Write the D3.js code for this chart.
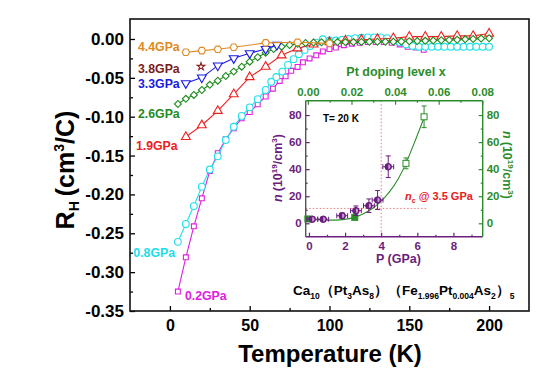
<!DOCTYPE html>
<html>
<head>
<meta charset="utf-8">
<script src="https://cdn.jsdelivr.net/npm/d3@7"></script>
<style>
  body { margin: 0; background: #fff; }
  text { font-family: Arial, "Liberation Sans", sans-serif; font-weight: bold; }
</style>
</head>
<body>
<svg id="chart" width="558" height="386"></svg>
<script>
// ---- main panel: Hall coefficient R_H (cm^3/C) vs temperature (K) ----
const temp02 = [5,10,15,20,25,30,35,40,45,50,55,60,64.5,68.8,72.5,76,80,83.3,87.5,91.7,95.8,100,104,109,114,119,124,129,134,139,144,149,154,159];
const rh02 = [-0.325,-0.281,-0.241,-0.205,-0.170,-0.147,-0.129,-0.115,-0.102,-0.094,-0.084,-0.074,-0.064,-0.054,-0.048,-0.041,-0.036,-0.030,-0.025,-0.021,-0.016,-0.013,-0.011,-0.008,-0.006,-0.005,-0.004,-0.004,-0.004,-0.005,-0.007,-0.010,-0.011,-0.014];

const temp08 = [5,10,15,20,25,30,35,40,45,50,55,60,63.5,66.7,70.4,74,77.5,80.8,84.4,87.9,91.7,95.8,100,104,108,112,116,120,124,128,132,136,140,144,148,152,156,160,164,168,172,176,180,184,188,192,196,200];
const rh08 = [-0.261,-0.238,-0.215,-0.190,-0.168,-0.151,-0.130,-0.113,-0.099,-0.088,-0.0775,-0.0656,-0.055,-0.049,-0.042,-0.0334,-0.026,-0.0197,-0.0141,-0.009,-0.0048,-0.0004,-0.002,-0.002,-0.001,0.000,0.001,0.0015,0.002,0.002,0.002,0.001,-0.001,-0.004,-0.007,-0.009,-0.010,-0.010,-0.010,-0.010,-0.010,-0.010,-0.010,-0.010,-0.010,-0.010,-0.010,-0.010];

const temp19 = [10,20,30,40,50,60,70,80,90,100,110,120,130,140,150,160,170,180,190,200];
const rh19 = [-0.126,-0.111,-0.0925,-0.071,-0.049,-0.0356,-0.021,-0.012,-0.007,-0.004,-0.002,-0.001,0.000,0.001,0.003,0.003,0.003,0.004,0.004,0.007];

const temp26 = d3.range(5, 201, 5);
const rh26 = [-0.0836,-0.077,-0.072,-0.0656,-0.059,-0.0536,-0.0476,-0.042,-0.0356,-0.0292,-0.0235,-0.0176,
  -0.013,-0.0099,-0.0078,-0.0063,-0.0052,-0.0046,-0.0042,-0.004,
  -0.004,-0.004,-0.004,-0.0038,-0.0036,-0.0035,-0.0035,-0.0035,
  -0.0033,-0.003,-0.0027,-0.0024,-0.002,-0.0017,-0.0013,-0.001,-0.0005,0.0,0.0005,0.001];

const temp33 = [10,20,30,40,50,60,67];
const rh33 = [-0.057,-0.0497,-0.0343,-0.0248,-0.0184,-0.0129,-0.0077];

const temp38 = [19.5];
const rh38 = [-0.0356];

const temp44 = [10,20,30,40,60,80,100];
const rh44 = [-0.0171,-0.015,-0.0133,-0.0107,-0.005,-0.0043,-0.0056];

const tempTicks = [0, 50, 100, 150, 200];
const tempMinor = [25, 75, 125, 175];
const rhTicks = [-0.35,-0.30,-0.25,-0.20,-0.15,-0.10,-0.05,0];
const rhMinor = [-0.325,-0.275,-0.225,-0.175,-0.125,-0.075,-0.025];

// ---- inset: carrier density n (10^19/cm^3) at T = 20 K ----
const pressGPa = [0.18, 0.79, 1.84, 2.6, 3.32, 3.8, 4.39];
const nPress = [3.0, 3.0, 5.6, 9.3, 13, 17.2, 41.8];
const pressErr = [0.3, 0.3, 0.3, 0.3, 0.3, 0.3, 0.3];
const nPressErr = [1.5, 1.5, 2, 3.5, 5, 7, 8];

const dopingX = [0.0, 0.0215, 0.045, 0.0533];
const nDoping = [3.2, 4.4, 44.3, 78.7];
const nDopingErr = [1, 1, 4, 8];
const dopingFilled = [true, true, false, false];

const fitX = [0, 0.004, 0.008, 0.0125, 0.0167, 0.021, 0.025, 0.029, 0.0333, 0.0375, 0.0417, 0.045, 0.049, 0.0533];
const fitN = [3.2, 2.6, 2.3, 2.3, 2.8, 4, 6.5, 10, 15.5, 23, 33, 44, 60, 78];

const pTicks = [0, 2, 4, 6, 8];
const pMinor = [1, 3, 5, 7, 9];
const nTicks = [0, 20, 40, 60, 80];
const nMinor = [10, 30, 50, 70];
const xTicks = [0, 0.02, 0.04, 0.06, 0.08];
const xMinor = [0.01, 0.03, 0.05, 0.07];

const ncPressure = 4.0;   // dotted vertical marker
const ncDensity = 11;     // dotted horizontal marker

const svg = d3.select("#chart");
const FONT = "Arial, 'Liberation Sans', sans-serif";

const x = d3.scaleLinear().domain([-25, 225]).range([130, 529]);
const y = d3.scaleLinear().domain([-0.35, 0.0257]).range([311, 19]);

// hexagon for the 4.4 GPa curve
const symbolHexagon = {
    draw(ctx, size) {
        const r = Math.sqrt(size / (1.5 * Math.sqrt(3)));
        for (let i = 0; i < 6; i++) {
            const a = Math.PI / 3 * i;
            if (i == 0) ctx.moveTo(r * Math.cos(a), r * Math.sin(a));
            else ctx.lineTo(r * Math.cos(a), r * Math.sin(a));
        }
        ctx.closePath();
    }
};

const series = [
    { T: temp02, R: rh02, color: "#e020e0", sym: d3.symbolSquare, size: 24, rot: 0 },
    { T: temp08, R: rh08, color: "#22e0e8", sym: d3.symbolCircle, size: 36, rot: 0 },
    { T: temp19, R: rh19, color: "#ee2020", sym: d3.symbolTriangle, size: 34, rot: 0 },
    { T: temp26, R: rh26, color: "#1e8c1e", sym: d3.symbolSquare, size: 24, rot: 45 },
    { T: temp33, R: rh33, color: "#1a1ae6", sym: d3.symbolTriangle, size: 34, rot: 180 },
    { T: temp44, R: rh44, color: "#e08a22", sym: symbolHexagon, size: 36, rot: 0 },
    { T: temp38, R: rh38, color: "#8b1e1e", sym: d3.symbolStar, size: 18, rot: 0 }
];

// axes
const gx = svg.append("g").attr("transform", "translate(0,311)")
    .call(d3.axisBottom(x).tickValues(tempTicks).tickSize(-5).tickPadding(9).tickFormat(d3.format("d")));
svg.append("g").attr("transform", "translate(0,311)")
    .call(d3.axisBottom(x).tickValues(tempMinor).tickSize(-3).tickFormat(""));
const gy = svg.append("g").attr("transform", "translate(130,0)")
    .call(d3.axisLeft(y).tickValues(rhTicks).tickSize(-5).tickPadding(6).tickFormat(d => d.toFixed(2)));
svg.append("g").attr("transform", "translate(130,0)")
    .call(d3.axisLeft(y).tickValues(rhMinor).tickSize(-3).tickFormat(""));

svg.selectAll(".domain").remove();
svg.selectAll(".tick line").attr("stroke", "#000").attr("stroke-width", 1.3);
gx.attr("font-size", 16).attr("font-family", FONT);
gy.attr("font-size", 17).attr("font-family", FONT);
svg.selectAll(".tick text").attr("fill", "#000");

svg.append("rect").attr("x", 130).attr("y", 19).attr("width", 399).attr("height", 292)
    .attr("fill", "none").attr("stroke", "#111").attr("stroke-width", 1.6);

// curves
const line = d3.line().x(d => x(d[0])).y(d => y(d[1]));
for (const s of series) {
    const pts = s.T.map((t, i) => [t, s.R[i]]);
    if (pts.length > 1)
        svg.append("path").attr("d", line(pts)).attr("fill", "none")
            .attr("stroke", s.color).attr("stroke-width", 1.1);
    svg.append("g").selectAll("path").data(pts).join("path")
        .attr("d", d3.symbol(s.sym, s.size))
        .attr("transform", d => `translate(${x(d[0])},${y(d[1])}) rotate(${s.rot})`)
        .attr("fill", "#fff").attr("stroke", s.color).attr("stroke-width", 1.1);
}

// curve labels
const labels = [
    { text: "4.4GPa", T: -20, R: -0.0103, color: "#e08a22" },
    { text: "3.8GPa", T: -20, R: -0.0377, color: "#7c1c1c" },
    { text: "3.3GPa", T: -20, R: -0.057, color: "#1a1ae6" },
    { text: "2.6GPa", T: -20, R: -0.0955, color: "#1e8c1e" },
    { text: "1.9GPa", T: -21.3, R: -0.137, color: "#ee2020" },
    { text: "0.8GPa", T: -22.9, R: -0.2747, color: "#22dde6" },
    { text: "0.2GPa", T: 9.4, R: -0.33, color: "#e020e0" }
];
svg.append("g").selectAll("text").data(labels).join("text")
    .attr("x", d => x(d.T)).attr("y", d => y(d.R)).attr("dy", "0.36em")
    .attr("font-size", 12.3).attr("fill", d => d.color).text(d => d.text);

// axis titles
svg.append("text").attr("x", 330).attr("y", 362).attr("text-anchor", "middle")
    .attr("font-size", 24).text("Temperature (K)");

const yt = svg.append("text").attr("transform", "translate(73.5,170) rotate(-90)")
    .attr("text-anchor", "middle").attr("font-size", 25);
yt.append("tspan").text("R");
yt.append("tspan").attr("font-size", 14).attr("dy", 5).text("H");
yt.append("tspan").attr("dy", -5).attr("dx", 5).text("(cm");
yt.append("tspan").attr("font-size", 14).attr("dy", -10).text("3");
yt.append("tspan").attr("dy", 10).text("/C)");

// compound formula
const ft = svg.append("text").attr("x", 293).attr("y", 295).attr("font-size", 13.5);
const formula = [["Ca",0],["10",1],["\uFF08Pt",0],["3",1],["As",0],["8",1],["\uFF09\uFF08Fe",0],["1.996",1],["Pt",0],["0.004",1],["As",0],["2",1],["\uFF09",0],["5",1]];
let sub = 0;
for (const [t, s] of formula) {
    const dy = s == sub ? 0 : (s ? 4 : -4);
    ft.append("tspan").attr("font-size", s ? 8.5 : 13.5).attr("dy", dy).text(t);
    sub = s;
}

// ---- inset ----
const IL = 305.7, IR = 482.7, IT = 100.7, IB = 236.7;
const PURPLE = "#6b1e7d", GREEN = "#2b8c2b", DOT = "#f07878";

const xp = d3.scaleLinear().domain([-0.18, 9.62]).range([IL, IR]);
const xd = d3.scaleLinear().domain([-0.001, 0.0802]).range([IL, IR]);
const yn = d3.scaleLinear().domain([-9.9, 90.6]).range([IB, IT]);

svg.append("rect").attr("x", IL).attr("y", IT).attr("width", IR - IL).attr("height", IB - IT).attr("fill", "#fff");

// dotted guides
svg.append("line").attr("x1", xp(ncPressure)).attr("x2", xp(ncPressure)).attr("y1", IT).attr("y2", IB)
    .attr("stroke", DOT).attr("stroke-width", 1).attr("stroke-dasharray", "1.5,2");
svg.append("line").attr("x1", IL).attr("x2", xp(6.6)).attr("y1", yn(ncDensity)).attr("y2", yn(ncDensity))
    .attr("stroke", DOT).attr("stroke-width", 1).attr("stroke-dasharray", "1.5,2");

function insetAxis(makeAxis, values, minor, pos, color, fmt, pad) {
    const g = svg.append("g").attr("transform", pos)
        .call(makeAxis().tickValues(values).tickSize(-4).tickPadding(pad).tickFormat(fmt));
    const gm = svg.append("g").attr("transform", pos)
        .call(makeAxis().tickValues(minor).tickSize(-2).tickFormat(""));
    for (const a of [g, gm]) {
        a.select(".domain").remove();
        a.selectAll(".tick line").attr("stroke", color).attr("stroke-width", 1.2);
    }
    g.attr("font-size", 11.5).attr("font-family", FONT);
    g.selectAll(".tick text").attr("fill", color);
    return g;
}
insetAxis(() => d3.axisBottom(xp), pTicks, pMinor, `translate(0,${IB})`, PURPLE, d3.format("d"), 5);
insetAxis(() => d3.axisLeft(yn), nTicks, nMinor, `translate(${IL},0)`, PURPLE, d3.format("d"), 4);
insetAxis(() => d3.axisTop(xd), xTicks, xMinor, `translate(0,${IT})`, GREEN, d => d.toFixed(2), 5);
insetAxis(() => d3.axisRight(yn), nTicks, nMinor, `translate(${IR},0)`, GREEN, d3.format("d"), 4);

// inset frame
svg.append("line").attr("x1", IL).attr("x2", IR).attr("y1", IB).attr("y2", IB).attr("stroke", PURPLE).attr("stroke-width", 1.4);
svg.append("line").attr("x1", IL).attr("x2", IL).attr("y1", IT).attr("y2", IB).attr("stroke", "#555").attr("stroke-width", 1.4);
svg.append("line").attr("x1", IL).attr("x2", IR).attr("y1", IT).attr("y2", IT).attr("stroke", GREEN).attr("stroke-width", 1.4);
svg.append("line").attr("x1", IR).attr("x2", IR).attr("y1", IT).attr("y2", IB).attr("stroke", GREEN).attr("stroke-width", 1.4);

// fit curve (vs doping)
svg.append("path").attr("d", d3.line().curve(d3.curveBasis).x(d => xd(d)).y((d, i) => yn(fitN[i]))(fitX))
    .attr("fill", "none").attr("stroke", GREEN).attr("stroke-width", 1.1);

// doping points
dopingX.forEach((dx, i) => {
    const cx = xd(dx), cy = yn(nDoping[i]);
    svg.append("line").attr("x1", cx).attr("x2", cx).attr("y1", yn(nDoping[i] - nDopingErr[i])).attr("y2", yn(nDoping[i] + nDopingErr[i]))
        .attr("stroke", GREEN).attr("stroke-width", 1);
    for (const e of [-1, 1])
        svg.append("line").attr("x1", cx - 2.5).attr("x2", cx + 2.5)
            .attr("y1", yn(nDoping[i] + e * nDopingErr[i])).attr("y2", yn(nDoping[i] + e * nDopingErr[i]))
            .attr("stroke", GREEN).attr("stroke-width", 1);
    svg.append("rect").attr("x", cx - 3).attr("y", cy - 3).attr("width", 6).attr("height", 6)
        .attr("fill", dopingFilled[i] ? GREEN : "#fff").attr("stroke", GREEN).attr("stroke-width", 1);
});

// pressure points
pressGPa.forEach((p, i) => {
    const cx = xp(p), cy = yn(nPress[i]);
    const col = PURPLE;
    svg.append("line").attr("x1", xp(p - pressErr[i])).attr("x2", xp(p + pressErr[i])).attr("y1", cy).attr("y2", cy)
        .attr("stroke", col).attr("stroke-width", 1);
    svg.append("line").attr("x1", cx).attr("x2", cx).attr("y1", yn(nPress[i] - nPressErr[i])).attr("y2", yn(nPress[i] + nPressErr[i]))
        .attr("stroke", col).attr("stroke-width", 1);
    for (const e of [-1, 1]) {
        svg.append("line").attr("x1", cx - 2.5).attr("x2", cx + 2.5)
            .attr("y1", yn(nPress[i] + e * nPressErr[i])).attr("y2", yn(nPress[i] + e * nPressErr[i]))
            .attr("stroke", col).attr("stroke-width", 1);
        svg.append("line").attr("y1", cy - 2.5).attr("y2", cy + 2.5)
            .attr("x1", xp(p + e * pressErr[i])).attr("x2", xp(p + e * pressErr[i]))
            .attr("stroke", col).attr("stroke-width", 1);
    }
    svg.append("circle").attr("cx", cx).attr("cy", cy).attr("r", 3.3).attr("fill", col).attr("stroke", col);
    svg.append("path").attr("d", d3.arc()({ innerRadius: 0, outerRadius: 2.2, startAngle: 0, endAngle: Math.PI }))
        .attr("transform", `translate(${cx},${cy})`).attr("fill", "#c9a0d6");
});

// inset texts
svg.append("text").attr("x", 323).attr("y", 121.5).attr("font-size", 10).attr("fill", "#000").text("T= 20 K");
svg.append("text").attr("x", 396).attr("y", 75.5).attr("text-anchor", "middle").attr("font-size", 12.5)
    .attr("fill", GREEN).text("Pt doping level x");
svg.append("text").attr("x", 398.5).attr("y", 263).attr("text-anchor", "middle").attr("font-size", 12.5)
    .attr("fill", PURPLE).text("P (GPa)");

const nc = svg.append("text").attr("x", 405).attr("y", 200).attr("font-size", 11).attr("fill", "#e82020");
nc.append("tspan").attr("font-style", "italic").text("n");
nc.append("tspan").attr("font-size", 7).attr("dy", 3).text("c");
nc.append("tspan").attr("dy", -3).text(" @ 3.5 GPa");

function nLabel(tr, color) {
    const t = svg.append("text").attr("transform", tr).attr("text-anchor", "middle")
        .attr("font-size", 12.5).attr("fill", color);
    t.append("tspan").attr("font-style", "italic").text("n");
    t.append("tspan").attr("dx", 3).text("(10");
    t.append("tspan").attr("font-size", 8).attr("dy", -5).text("19");
    t.append("tspan").attr("dy", 5).text("/cm");
    t.append("tspan").attr("font-size", 8).attr("dy", -5).text("3");
    t.append("tspan").attr("dy", 5).text(")");
}
nLabel("translate(282,168) rotate(-90)", PURPLE);
nLabel("translate(503,165) rotate(90)", GREEN);
</script>
</body>
</html>
